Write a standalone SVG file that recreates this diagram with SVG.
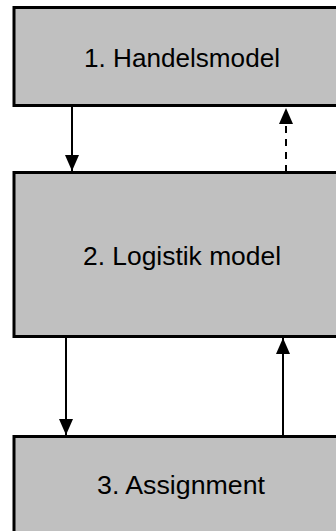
<svg xmlns="http://www.w3.org/2000/svg" width="336" height="531" viewBox="0 0 336 531">
  <style>
    .box { fill: #c0c0c0; stroke: #000; stroke-width: 3; }
    .label { font-family: "Liberation Sans", Arial, sans-serif; font-size: 25px; fill: #000; text-anchor: middle; }
    .flow { stroke: #000; stroke-width: 2; fill: none; }
    .dashed { stroke-dasharray: 7 6; }
  </style>
  <defs>
    <marker id="head" viewBox="0 0 16 14" refX="16" refY="7" markerWidth="16" markerHeight="14" markerUnits="userSpaceOnUse" orient="auto">
      <path d="M0,0 L16,7 L0,14 Z" fill="#000"/>
    </marker>
  </defs>

  <g id="connectors">
    <line class="flow" x1="72" y1="106" x2="72" y2="171" marker-end="url(#head)"/>
    <line class="flow dashed" x1="286" y1="172" x2="286" y2="108" marker-end="url(#head)"/>
    <line class="flow" x1="66" y1="337" x2="66" y2="435" marker-end="url(#head)"/>
    <line class="flow" x1="283" y1="436" x2="283" y2="338" marker-end="url(#head)"/>
  </g>

  <g id="handelsmodel">
    <rect class="box" x="14" y="7.5" width="340" height="98"/>
    <text class="label" x="182" y="67" textLength="196" lengthAdjust="spacingAndGlyphs">1. Handelsmodel</text>
  </g>

  <g id="logistik-model">
    <rect class="box" x="14" y="172.5" width="340" height="164"/>
    <text class="label" x="182" y="265" textLength="198" lengthAdjust="spacingAndGlyphs">2. Logistik model</text>
  </g>

  <g id="assignment">
    <rect class="box" x="14" y="436.5" width="340" height="110"/>
    <text class="label" x="181" y="494" textLength="168" lengthAdjust="spacingAndGlyphs">3. Assignment</text>
  </g>
</svg>
